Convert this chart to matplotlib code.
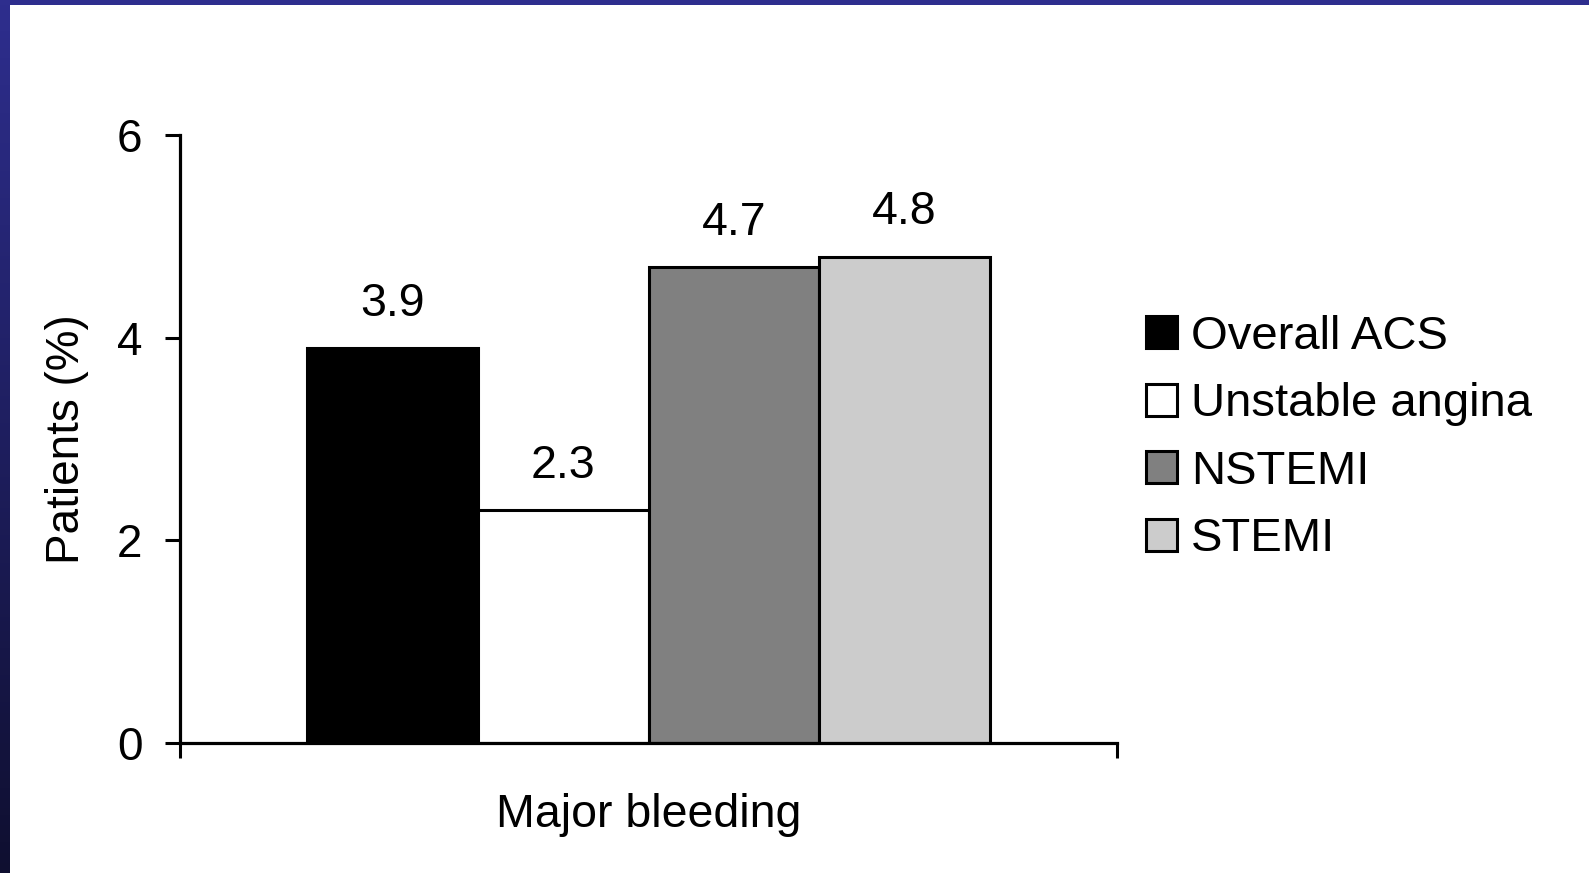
import numpy as np
import matplotlib
matplotlib.use("Agg")
import matplotlib.pyplot as plt
from matplotlib.patches import Rectangle
from matplotlib.colors import LinearSegmentedColormap

# data
groups = ["Overall ACS", "Unstable angina", "NSTEMI", "STEMI"]
values = [3.9, 2.3, 4.7, 4.8]
colors = ["#000000", "#ffffff", "#808080", "#cccccc"]
category = ["Major bleeding"]
yticks = [0, 2, 4, 6]

plt.rcParams['font.family'] = ['Liberation Sans', 'DejaVu Sans']
FS = 33

fig = plt.figure(figsize=(15.89, 8.73), dpi=100)
ax = fig.add_axes([180 / 1589, 1 - 743 / 873, (1117 - 180) / 1589, (743 - 135) / 873])

width = 0.182
offsets = (np.arange(len(groups)) - (len(groups) - 1) / 2) * width
for off, val, col, name in zip(offsets, values, colors, groups):
    ax.bar(off, val, width=width, color=col, edgecolor="black", linewidth=2.2, label=name)
    ax.annotate(f"{val}", (off, val), xytext=(0, 16), textcoords="offset points",
                ha="center", va="bottom", fontsize=FS + 0.5)

ax.set_xlim(-0.5, 0.5)
ax.set_ylim(0, 6)
ax.set_yticks(yticks)
ax.set_xticks([0])
ax.set_xticklabels(category)
ax.set_xticks([-0.5, 0.5], minor=True)
ax.tick_params(axis="x", which="major", length=0, pad=36, labelsize=FS + 0.5)
ax.tick_params(axis="x", which="minor", length=11, width=2.2, direction="out")
ax.tick_params(axis="y", length=11, width=2.2, pad=16, labelsize=FS)
ax.set_ylabel("Patients (%)", fontsize=FS, labelpad=20)
for s in ["top", "right"]:
    ax.spines[s].set_visible(False)
for s in ["left", "bottom"]:
    ax.spines[s].set_linewidth(2.3)

fig.legend(loc="center left", bbox_to_anchor=(1146 / 1589, 1 - 438 / 873), frameon=False,
           fontsize=FS + 1, handlelength=0.66, handleheight=0.66, handletextpad=0.3,
           labelspacing=0.5, borderpad=0, borderaxespad=0)

# navy frame on top and left
fig.add_artist(Rectangle((0, 1 - 5 / 873), 1, 5 / 873, transform=fig.transFigure,
                         facecolor="#2e2e8e", edgecolor="none"))
bax = fig.add_axes([0, 0, 10 / 1589, 1])
grad = np.linspace(0, 1, 256).reshape(-1, 1)
cmap = LinearSegmentedColormap.from_list("frame", ["#2e2e8e", "#0f0f30"])
bax.imshow(grad, aspect="auto", cmap=cmap, extent=[0, 1, 0, 1], origin="upper")
bax.axis("off")

fig.savefig("out.png", dpi=100)
